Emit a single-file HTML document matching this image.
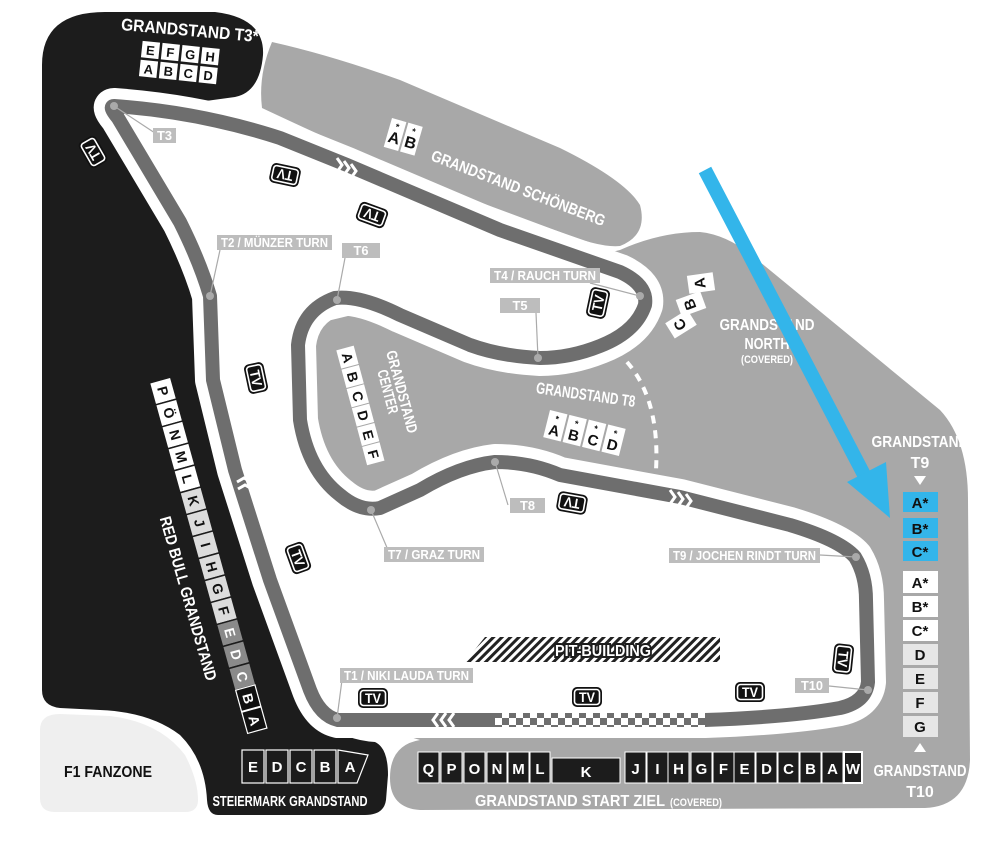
<!DOCTYPE html>
<html><head><meta charset="utf-8"><style>
html,body{margin:0;padding:0;background:#fff}
svg{display:block}
text{font-family:"Liberation Sans Narrow","Liberation Sans",sans-serif;font-weight:bold}
</style></head><body>
<svg width="1000" height="851" viewBox="0 0 1000 851" xmlns="http://www.w3.org/2000/svg">
<defs>
<pattern id="hatch" width="6" height="6" patternUnits="userSpaceOnUse" patternTransform="rotate(45)">
<rect width="6" height="6" fill="#fff"/><rect width="3" height="6" fill="#222"/></pattern>
<pattern id="chk" width="14" height="14" patternUnits="userSpaceOnUse" x="495" y="711">
<rect width="14" height="14" fill="#fff"/><rect width="7" height="7" fill="#6e6e6e"/><rect x="7" y="7" width="7" height="7" fill="#6e6e6e"/></pattern>
<g id="tv"><rect x="-15" y="-10" width="30" height="20" rx="5" fill="#111"/><rect x="-12.5" y="-7.5" width="25" height="15" rx="3" fill="none" stroke="#fff" stroke-width="1.6"/><text x="0" y="5" font-size="14" fill="#fff" text-anchor="middle" textLength="16" lengthAdjust="spacingAndGlyphs">TV</text></g>
</defs>

<path d="M290,330 L620,250 Q660,232 700,232 Q730,235 760,262 L940,410 Q968,440 968,500 L970,760 Q968,806 925,808 L420,810 Q390,808 390,778 Q390,745 420,740 L290,700 Z" fill="#a8a8a8"/>
<path d="M272,42 Q330,55 400,80 L560,148 Q625,180 640,205 Q648,235 620,246 Q600,248 560,232 L420,180 Q330,140 262,108 Q258,75 272,42 Z" fill="#a8a8a8"/>
<path d="M42,65 Q42,12 105,12 L215,12 Q265,18 263,55 Q260,92 235,97 L140,110 L190,240 L215,380 L250,520 L290,640 L330,725 Q345,740 375,742 Q388,748 388,775 L386,800 Q384,815 365,815 L218,815 Q208,815 207,800 Q205,760 180,735 Q150,712 100,710 L60,708 Q42,706 42,690 Z" fill="#1c1c1c"/>
<path d="M40,730 Q40,714 60,714 L110,716 Q160,722 185,755 Q198,780 198,800 Q198,812 185,812 L55,812 Q40,812 40,798 Z" fill="#efefef"/>
<path d="M232,285 Q250,320 238,345 Q225,365 228,395 L222,400 Q212,360 214,330 Z" fill="#d8d8d8"/>

<path id="trk" d="M114,106 Q200,112 280,138 L347,165 L500,230 L620,272 Q648,285 645,305 Q636,332 600,346 Q570,358 540,358 Q500,356 470,345 L400,315 Q360,295 335,298 Q302,310 298,345 L300,420 Q308,470 340,495 Q360,512 380,508 L420,490 Q460,466 495,462 Q530,462 560,475 L680,497 L790,525 Q840,540 855,557 Q866,575 866,600 L868,682 Q866,702 840,708 Q790,717 705,720 L500,720 L338,720 Q320,716 310,690 L270,580 L235,470 L213,380 L210,296 Q200,262 180,222 L118,118 Q108,106 114,106 Z" fill="#fff" stroke="#fff" stroke-width="36" stroke-linejoin="round"/>
<path d="M114,106 Q200,112 280,138 L347,165 L500,230 L620,272 Q648,285 645,305 Q636,332 600,346 Q570,358 540,358 Q500,356 470,345 L400,315 Q360,295 335,298 Q302,310 298,345 L300,420 Q308,470 340,495 Q360,512 380,508 L420,490 Q460,466 495,462 Q530,462 560,475 L680,497 L790,525 Q840,540 855,557 Q866,575 866,600 L868,682 Q866,702 840,708 Q790,717 705,720 L500,720 L338,720 Q320,716 310,690 L270,580 L235,470 L213,380 L210,296 Q200,262 180,222 L118,118 Q108,106 114,106 Z" fill="#fff" stroke="#6e6e6e" stroke-width="14" stroke-linejoin="round"/>
<rect x="495" y="713" width="210" height="14" fill="url(#chk)"/>
<g fill="none" stroke="#fff" stroke-width="3">
<path d="M337,158 l5,7 l-5,7 M344,161 l5,7 l-5,7 M351,164 l5,7 l-5,7"/>
<path d="M670,490 l5,7 l-5,7 M678,492 l5,7 l-5,7 M686,494 l5,7 l-5,7"/>
<path d="M438,713 l-5,7 l5,7 M446,713 l-5,7 l5,7 M454,713 l-5,7 l5,7"/>
<path d="M237,482 l7,-4 l7,4 M238,489 l7,-4 l7,4"/>
</g>
<path d="M627,362 Q660,400 656,470" fill="none" stroke="#fff" stroke-width="4" stroke-dasharray="8,7"/>

<path d="M485,637 L720,637 L720,662 L465,662 Z" fill="url(#hatch)"/>
<text x="603" y="656" font-size="16" fill="#fff" text-anchor="middle" stroke="#1c1c1c" stroke-width="4" paint-order="stroke" textLength="96" lengthAdjust="spacingAndGlyphs">PIT-BUILDING</text>

<g stroke="#aaa" stroke-width="1.2">
<line x1="114" y1="106" x2="158" y2="135"/><line x1="210" y1="296" x2="220" y2="250"/><line x1="337" y1="300" x2="345" y2="258"/>
<line x1="640" y1="296" x2="590" y2="283"/><line x1="538" y1="358" x2="536" y2="313"/><line x1="495" y1="462" x2="508" y2="505"/>
<line x1="371" y1="510" x2="388" y2="550"/><line x1="856" y1="557" x2="820" y2="555"/><line x1="868" y1="690" x2="829" y2="686"/>
<line x1="337" y1="718" x2="342" y2="680"/>
</g>
<g fill="#aaa"><circle cx="114" cy="106" r="4"/><circle cx="210" cy="296" r="4"/><circle cx="337" cy="300" r="4"/><circle cx="640" cy="296" r="4"/><circle cx="538" cy="358" r="4"/><circle cx="495" cy="462" r="4"/><circle cx="371" cy="510" r="4"/><circle cx="856" cy="557" r="4"/><circle cx="868" cy="690" r="4"/><circle cx="337" cy="718" r="4"/></g>
<g fill="#bdbdbd">
<rect x="153" y="128" width="23" height="15"/><rect x="217" y="235" width="115" height="15"/><rect x="342" y="243" width="38" height="15"/>
<rect x="490" y="268" width="110" height="15"/><rect x="500" y="298" width="40" height="15"/><rect x="510" y="498" width="35" height="15"/>
<rect x="384" y="547" width="100" height="15"/><rect x="669" y="548" width="151" height="15"/><rect x="795" y="678" width="34" height="15"/>
<rect x="340" y="668" width="133" height="15"/>
</g>
<g fill="#fff" font-size="13" text-anchor="middle" lengthAdjust="spacingAndGlyphs">
<text x="164.5" y="140" textLength="15" lengthAdjust="spacingAndGlyphs">T3</text>
<text x="274.5" y="247" textLength="107" lengthAdjust="spacingAndGlyphs">T2 / MÜNZER TURN</text>
<text x="361" y="255" textLength="15" lengthAdjust="spacingAndGlyphs">T6</text>
<text x="545" y="280" textLength="102" lengthAdjust="spacingAndGlyphs">T4 / RAUCH TURN</text>
<text x="520" y="310" textLength="15" lengthAdjust="spacingAndGlyphs">T5</text>
<text x="527.5" y="510" textLength="15" lengthAdjust="spacingAndGlyphs">T8</text>
<text x="434" y="559" textLength="92" lengthAdjust="spacingAndGlyphs">T7 / GRAZ TURN</text>
<text x="744.5" y="560" textLength="143" lengthAdjust="spacingAndGlyphs">T9 / JOCHEN RINDT TURN</text>
<text x="812" y="690" textLength="22" lengthAdjust="spacingAndGlyphs">T10</text>
<text x="406.5" y="680" textLength="125" lengthAdjust="spacingAndGlyphs">T1 / NIKI LAUDA TURN</text>
</g>

<use href="#tv" transform="translate(93,152) rotate(-120)"/>
<use href="#tv" transform="translate(285,175) rotate(192)"/>
<use href="#tv" transform="translate(372,215) rotate(200)"/>
<use href="#tv" transform="translate(598,303) rotate(-78)"/>
<use href="#tv" transform="translate(256,378) rotate(78)"/>
<use href="#tv" transform="translate(298,558) rotate(70)"/>
<use href="#tv" transform="translate(373,698)"/>
<use href="#tv" transform="translate(587,697)"/>
<use href="#tv" transform="translate(750,692)"/>
<use href="#tv" transform="translate(843,659) rotate(96)"/>
<use href="#tv" transform="translate(572,503) rotate(190)"/>

<text x="190" y="36" font-size="17" fill="#fff" text-anchor="middle" transform="rotate(5 190 30)" textLength="138" lengthAdjust="spacingAndGlyphs">GRANDSTAND T3*</text>
<g transform="translate(142,40) rotate(6)" font-size="13" text-anchor="middle">
<g fill="#fff" stroke="#1c1c1c" stroke-width="1.5">
<rect x="0" y="0" width="19" height="18"/><rect x="20" y="0" width="19" height="18"/><rect x="40" y="0" width="19" height="18"/><rect x="60" y="0" width="19" height="18"/>
<rect x="0" y="19" width="19" height="18"/><rect x="20" y="19" width="19" height="18"/><rect x="40" y="19" width="19" height="18"/><rect x="60" y="19" width="19" height="18"/></g>
<g fill="#111"><text x="9.5" y="14">E</text><text x="29.5" y="14">F</text><text x="49.5" y="14">G</text><text x="69.5" y="14">H</text>
<text x="9.5" y="33">A</text><text x="29.5" y="33">B</text><text x="49.5" y="33">C</text><text x="69.5" y="33">D</text></g>
</g>

<g transform="translate(392,118) rotate(16)" text-anchor="middle" font-size="16">
<rect x="0" y="0" width="15" height="30" fill="#fff"/><rect x="17" y="0" width="15" height="30" fill="#fff"/>
<text x="7.5" y="24" fill="#111">A</text><text x="24.5" y="24" fill="#111">B</text>
<text x="7.5" y="10" font-size="9" fill="#111">*</text><text x="24.5" y="10" font-size="9" fill="#111">*</text></g>
<text x="430" y="160" font-size="16" fill="#fff" transform="rotate(21 430 160)" textLength="185" lengthAdjust="spacingAndGlyphs">GRANDSTAND SCHÖNBERG</text>

<g transform="translate(160,380) rotate(-15.5)" font-size="14" text-anchor="middle">
<g stroke="#1c1c1c" stroke-width="1.5">
<rect x="-11" y="0" width="22" height="22.8" fill="#fff"/><rect x="-11" y="22.8" width="22" height="22.8" fill="#fff"/><rect x="-11" y="45.6" width="22" height="22.8" fill="#fff"/><rect x="-11" y="68.4" width="22" height="22.8" fill="#fff"/><rect x="-11" y="91.2" width="22" height="22.8" fill="#fff"/>
<rect x="-11" y="114" width="22" height="22.8" fill="#dcdcdc"/><rect x="-11" y="136.8" width="22" height="22.8" fill="#dcdcdc"/><rect x="-11" y="159.6" width="22" height="22.8" fill="#dcdcdc"/><rect x="-11" y="182.4" width="22" height="22.8" fill="#dcdcdc"/><rect x="-11" y="205.2" width="22" height="22.8" fill="#dcdcdc"/><rect x="-11" y="228" width="22" height="22.8" fill="#dcdcdc"/>
<rect x="-11" y="250.8" width="22" height="22.8" fill="#8a8a8a"/><rect x="-11" y="273.6" width="22" height="22.8" fill="#8a8a8a"/><rect x="-11" y="296.4" width="22" height="22.8" fill="#8a8a8a"/>
</g>
<rect x="-10" y="319.2" width="20" height="22" fill="#111" stroke="#fff" stroke-width="1.2"/><rect x="-10" y="342" width="20" height="22" fill="#111" stroke="#fff" stroke-width="1.2"/>
<g fill="#111"><text transform="translate(-5,11.4) rotate(90)">P</text><text transform="translate(-5,34.2) rotate(90)">Ö</text><text transform="translate(-5,57) rotate(90)">N</text><text transform="translate(-5,79.8) rotate(90)">M</text><text transform="translate(-5,102.6) rotate(90)">L</text>
<text transform="translate(-5,125.4) rotate(90)">K</text><text transform="translate(-5,148.2) rotate(90)">J</text><text transform="translate(-5,171) rotate(90)">I</text><text transform="translate(-5,193.8) rotate(90)">H</text><text transform="translate(-5,216.6) rotate(90)">G</text><text transform="translate(-5,239.4) rotate(90)">F</text></g>
<g fill="#fff"><text transform="translate(-5,262.2) rotate(90)">E</text><text transform="translate(-5,285) rotate(90)">D</text><text transform="translate(-5,307.8) rotate(90)">C</text><text transform="translate(-5,330.6) rotate(90)">B</text><text transform="translate(-5,353.4) rotate(90)">A</text></g>
</g>
<text font-size="16" fill="#fff" text-anchor="middle" transform="translate(183,600) rotate(74)" textLength="170" lengthAdjust="spacingAndGlyphs">RED BULL GRANDSTAND</text>

<g transform="translate(345,348) rotate(-15)" font-size="14" text-anchor="middle">
<g fill="#fff"><rect x="-9" y="0" width="18" height="19"/><rect x="-9" y="20" width="18" height="19"/><rect x="-9" y="40" width="18" height="19"/><rect x="-9" y="60" width="18" height="19"/><rect x="-9" y="80" width="18" height="19"/><rect x="-9" y="100" width="18" height="19"/></g>
<g fill="#111"><text transform="translate(-5,10) rotate(90)">A</text><text transform="translate(-5,30) rotate(90)">B</text><text transform="translate(-5,50) rotate(90)">C</text><text transform="translate(-5,70) rotate(90)">D</text><text transform="translate(-5,90) rotate(90)">E</text><text transform="translate(-5,110) rotate(90)">F</text></g>
</g>
<g font-size="15" fill="#fff" text-anchor="middle"><text transform="translate(397,393) rotate(75)" textLength="85" lengthAdjust="spacingAndGlyphs">GRANDSTAND</text><text transform="translate(383,393) rotate(75)" textLength="45" lengthAdjust="spacingAndGlyphs">CENTER</text></g>

<text x="585" y="400" font-size="16" fill="#fff" text-anchor="middle" transform="rotate(8 585 400)" textLength="100" lengthAdjust="spacingAndGlyphs">GRANDSTAND T8</text>
<g transform="translate(550,410) rotate(14)" font-size="15" text-anchor="middle">
<g fill="#fff"><rect x="0" y="0" width="18" height="28"/><rect x="20" y="0" width="18" height="28"/><rect x="40" y="0" width="18" height="28"/><rect x="60" y="0" width="18" height="28"/></g>
<g fill="#111"><text x="9" y="24">A</text><text x="29" y="24">B</text><text x="49" y="24">C</text><text x="69" y="24">D</text>
<text x="9" y="10" font-size="9">*</text><text x="29" y="10" font-size="9">*</text><text x="49" y="10" font-size="9">*</text><text x="69" y="10" font-size="9">*</text></g></g>

<g font-size="15" text-anchor="middle">
<g transform="translate(701,283) rotate(-8)"><rect x="-13" y="-9" width="26" height="18" fill="#fff"/><text transform="translate(4,0) rotate(-90)" fill="#111">A</text></g>
<g transform="translate(691,304) rotate(-20)"><rect x="-13" y="-9" width="26" height="18" fill="#fff"/><text transform="translate(4,0) rotate(-90)" fill="#111">B</text></g>
<g transform="translate(681,324) rotate(-32)"><rect x="-13" y="-9" width="26" height="18" fill="#fff"/><text transform="translate(4,0) rotate(-90)" fill="#111">C</text></g>
</g>
<g fill="#fff" text-anchor="middle"><text x="767" y="330" font-size="16" textLength="95" lengthAdjust="spacingAndGlyphs">GRANDSTAND</text><text x="767" y="349" font-size="16" textLength="45" lengthAdjust="spacingAndGlyphs">NORTH</text><text x="767" y="363" font-size="11" textLength="52" lengthAdjust="spacingAndGlyphs">(COVERED)</text></g>

<line x1="705" y1="170" x2="872" y2="490" stroke="#33b5ea" stroke-width="14"/>
<polygon points="847,482 886,462 890,518" fill="#33b5ea"/>

<g fill="#fff" text-anchor="middle"><text x="920" y="447" font-size="16" textLength="97" lengthAdjust="spacingAndGlyphs">GRANDSTAND</text><text x="920" y="468" font-size="16">T9</text>
<text x="920" y="776" font-size="16" textLength="93" lengthAdjust="spacingAndGlyphs">GRANDSTAND</text><text x="920" y="797" font-size="16">T10</text>
<polygon points="914,476 926,476 920,485"/><polygon points="914,752 926,752 920,743"/></g>
<g>
<rect x="903" y="492" width="35" height="20" fill="#33b5ea"/><rect x="903" y="518" width="35" height="20" fill="#33b5ea"/><rect x="903" y="541" width="35" height="20" fill="#33b5ea"/>
<rect x="903" y="571" width="35" height="22" fill="#fff"/><rect x="903" y="596" width="35" height="21" fill="#fff"/><rect x="903" y="620" width="35" height="21" fill="#fff"/>
<rect x="903" y="644" width="35" height="21" fill="#e6e6e6"/><rect x="903" y="668" width="35" height="21" fill="#e6e6e6"/><rect x="903" y="692" width="35" height="21" fill="#e6e6e6"/><rect x="903" y="716" width="35" height="21" fill="#e6e6e6"/>
</g>
<g fill="#111" font-size="15" text-anchor="middle">
<text x="920" y="508">A*</text><text x="920" y="534">B*</text><text x="920" y="557">C*</text><text x="920" y="588">A*</text><text x="920" y="612">B*</text><text x="920" y="636">C*</text>
<text x="920" y="660">D</text><text x="920" y="684">E</text><text x="920" y="708">F</text><text x="920" y="732">G</text></g>

<g fill="#1c1c1c" stroke="#fff" stroke-width="1">
<rect x="418" y="752" width="21" height="31"/><rect x="441" y="752" width="21" height="31"/><rect x="464" y="752" width="21" height="31"/><rect x="487" y="752" width="20" height="31"/><rect x="508" y="752" width="21" height="31"/><rect x="530" y="752" width="20" height="31"/>
<rect x="552" y="758" width="68" height="25"/>
<rect x="625" y="752" width="21" height="31"/><rect x="647" y="752" width="21" height="31"/><rect x="668" y="752" width="21" height="31"/><rect x="691" y="752" width="21" height="31"/><rect x="713" y="752" width="21" height="31"/><rect x="734" y="752" width="21" height="31"/><rect x="756" y="752" width="21" height="31"/><rect x="778" y="752" width="21" height="31"/><rect x="800" y="752" width="21" height="31"/><rect x="822" y="752" width="21" height="31"/>
<rect x="844" y="752" width="18" height="31" stroke-width="2"/></g>
<g fill="#fff" font-size="15" text-anchor="middle">
<text x="428.5" y="774">Q</text><text x="451.5" y="774">P</text><text x="474.5" y="774">O</text><text x="497" y="774">N</text><text x="518.5" y="774">M</text><text x="540" y="774">L</text><text x="586" y="777">K</text>
<text x="635.5" y="774">J</text><text x="657.5" y="774">I</text><text x="678.5" y="774">H</text><text x="701.5" y="774">G</text><text x="723.5" y="774">F</text><text x="744.5" y="774">E</text><text x="766.5" y="774">D</text><text x="788.5" y="774">C</text><text x="810.5" y="774">B</text><text x="832.5" y="774">A</text><text x="853" y="774">W</text></g>
<text x="475" y="806" font-size="16" fill="#fff" textLength="190" lengthAdjust="spacingAndGlyphs">GRANDSTAND START ZIEL</text>
<text x="670" y="806" font-size="11" fill="#fff" textLength="52" lengthAdjust="spacingAndGlyphs">(COVERED)</text>

<g fill="none" stroke="#fff" stroke-width="1.2">
<rect x="242" y="750" width="22" height="33"/><rect x="266" y="750" width="22" height="33"/><rect x="290" y="750" width="22" height="33"/><rect x="314" y="750" width="22" height="33"/>
<path d="M338,750 L368,755 L357,783 L338,783 Z"/></g>
<g fill="#fff" font-size="15" text-anchor="middle"><text x="253" y="772">E</text><text x="277" y="772">D</text><text x="301" y="772">C</text><text x="325" y="772">B</text><text x="350" y="772">A</text></g>
<text x="290" y="806" font-size="15" fill="#fff" text-anchor="middle" textLength="155" lengthAdjust="spacingAndGlyphs">STEIERMARK GRANDSTAND</text>

<text x="108" y="777" font-size="16" fill="#111" text-anchor="middle" textLength="88" lengthAdjust="spacingAndGlyphs">F1 FANZONE</text>
</svg>
</body></html>
